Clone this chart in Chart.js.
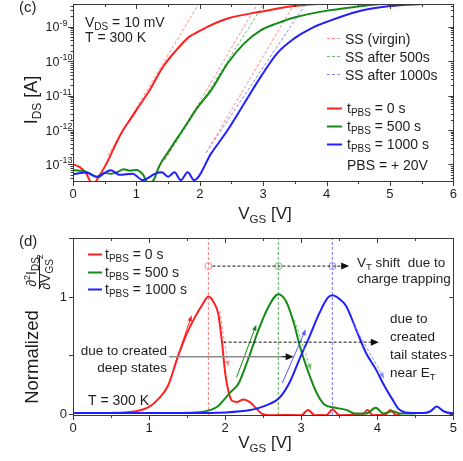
<!DOCTYPE html>
<html>
<head>
<meta charset="utf-8">
<script src="https://cdn.jsdelivr.net/npm/chart.js@4.4.0/dist/chart.umd.min.js"></script>
<style>
html, body { margin: 0; padding: 0; background: #fff; }
#wrap { position: relative; width: 463px; height: 461px; }
.layer { position: absolute; left: 0; top: 0; width: 463px; height: 461px; pointer-events: none; }
</style>
</head>
<body>
<div id="wrap">
  <div class="layer"><canvas id="transferChart"></canvas></div>
  <div class="layer"><canvas id="derivChart"></canvas></div>
</div>
<script>
// ---- (c) transfer curves, V_GS [V] -> I_DS [A]
const vgsRed = [0, 0.1, 0.21, 0.26, 0.32, 0.37, 0.5, 0.58, 0.69, 0.79, 0.9, 1.0, 1.21, 1.42, 1.63, 1.83, 1.97, 2.12, 2.44, 2.96, 3.49, 4.0, 4.2];
const idsRed = [1.0e-13, 8.5e-14, 5.5e-14, 3.5e-14, 2.2e-14, 3.4e-14, 8.5e-14, 1.66e-13, 4.5e-13, 1.0e-12, 2.0e-12, 3.8e-12, 1.45e-11, 6.9e-11, 2.1e-10, 5.1e-10, 7.1e-10, 1.0e-9, 1.74e-9, 2.75e-9, 4.0e-9, 4.8e-9, 5.1e-9];

const vgsGreen = [0, 0.1, 0.2, 0.3, 0.4, 0.5, 0.6, 0.7, 0.8, 0.9, 1.0, 1.1, 1.18, 1.26, 1.36, 1.52, 1.73, 1.97, 2.18, 2.44, 2.7, 2.96, 3.22, 3.49, 4.01, 4.5, 4.85, 5.1];
const idsGreen = [6.8e-14, 6.6e-14, 6.2e-14, 5.0e-14, 4.2e-14, 5.6e-14, 5.4e-14, 6.0e-14, 7.2e-14, 6.6e-14, 6.9e-14, 5.2e-14, 3.0e-14, 3.3e-14, 8.9e-14, 2.6e-13, 1.0e-12, 4.7e-12, 1.45e-11, 8.7e-11, 3.3e-10, 7.9e-10, 1.26e-9, 1.86e-9, 2.95e-9, 3.9e-9, 4.6e-9, 5.0e-9];

const vgsBlue = [0, 0.21, 0.37, 0.6, 0.73, 0.94, 1.1, 1.3, 1.4, 1.5, 1.6, 1.7, 1.81, 1.91, 2.18, 2.44, 2.7, 2.96, 3.22, 3.49, 3.75, 4.01, 4.48, 5.0, 5.53, 5.8];
const idsBlue = [5.2e-14, 5.8e-14, 4.4e-14, 6.8e-14, 5.0e-14, 5.4e-14, 3.5e-14, 5.4e-14, 5.9e-14, 4.4e-14, 5.9e-14, 3.5e-14, 5.9e-14, 3.5e-14, 2.1e-13, 1.0e-12, 5.9e-12, 3.5e-11, 1.7e-10, 4.6e-10, 8.9e-10, 1.41e-9, 2.75e-9, 4.0e-9, 4.6e-9, 4.9e-9];

// subthreshold swing fits (dashed), start / end points
const ssVirginV = [[0.55, 1.98], [1.45, 2.91], [2.1, 3.49]];
const ssVirginI = [[1.8e-13, 4.6e-9], [1.35e-13, 4.6e-9], [2.2e-13, 4.6e-9]];
const ss500V = [1.45, 3.01];
const ss500I = [1.35e-13, 4.6e-9];
const ss1000V = [2.1, 3.67];
const ss1000I = [2.2e-13, 4.6e-9];

const idsDecades = [-13, -12, -11, -10, -9];   // labelled log ticks

// ---- (d) normalized second derivative
const vgsDRed = [0.26, 0.5, 0.83, 1.0, 1.13, 1.25, 1.37, 1.48, 1.6, 1.7, 1.78, 1.85, 1.91, 1.96, 2.0, 2.04, 2.09, 2.16, 2.24, 2.32, 2.4, 2.48, 2.6, 3.0, 3.09, 3.18, 3.33, 3.41, 3.5, 3.8, 3.87, 3.94, 4.1, 4.17, 4.25, 4.3];
const d2Red = [0.005, 0.006, 0.02, 0.057, 0.13, 0.24, 0.47, 0.66, 0.82, 0.93, 1.0, 0.95, 0.85, 0.6, 0.35, 0.2, 0.11, 0.1, 0.12, 0.1, 0.05, 0.0, -0.015, -0.015, 0.03, -0.015, -0.015, 0.035, -0.015, -0.015, 0.03, -0.015, -0.015, 0.03, -0.015, -0.015];

const vgsDGreen = [1.26, 1.6, 1.8, 1.9, 2.0, 2.08, 2.17, 2.3, 2.43, 2.56, 2.7, 2.8, 2.9, 2.98, 3.09, 3.2, 3.3, 3.45, 3.6, 3.7, 3.85, 3.98, 4.08, 4.2, 4.3, 4.5];
const d2Green = [0.005, 0.01, 0.03, 0.06, 0.13, 0.19, 0.25, 0.46, 0.7, 0.9, 1.02, 0.96, 0.78, 0.58, 0.36, 0.18, 0.08, 0.05, 0.03, 0.0, 0.0, 0.05, 0.0, 0.02, 0.0, 0.0];

const vgsDBlue = [0, 1.5, 2.0, 2.33, 2.54, 2.72, 2.85, 2.98, 3.11, 3.24, 3.35, 3.41, 3.5, 3.59, 3.72, 3.85, 3.98, 4.09, 4.19, 4.28, 4.37, 4.6, 4.7, 4.78, 4.87, 4.97, 5.0];
const d2Blue = [0.005, 0.005, 0.01, 0.03, 0.07, 0.14, 0.27, 0.47, 0.66, 0.86, 0.99, 1.01, 0.98, 0.92, 0.72, 0.52, 0.38, 0.24, 0.13, 0.04, 0.01, 0.005, 0.02, 0.06, 0.02, 0.005, 0.005];

const peakV = [1.78, 2.7, 3.41];      // V_T markers
const markerLevel = 1.26;
const normTicks = [0, 0.5, 1, 1.5];
const normLabels = [0, 1];

// small slope arrows on the peaks (from -> to)
const slopeArrowV = [[1.33, 1.56], [1.93, 2.04], [2.15, 2.41], [2.91, 3.13], [2.75, 3.06], [3.67, 4.09]];
const slopeArrowY = [[0.40, 0.84], [0.875, 0.40], [0.31, 0.76], [0.80, 0.37], [0.26, 0.72], [0.78, 0.30]];

const FONT = '"Liberation Sans", Arial, sans-serif';
const TXT = '#1e1e1e';
const AX = '#3a3a3a';
const RED = '#ff1f1f', GREEN = '#168a16', BLUE = '#1f1fff';
const RED_L = '#ff8a8a', GREEN_L = '#70c070', BLUE_L = '#8a8aff';

function pts(xs, ys) { return xs.map((x, i) => ({ x: x, y: ys[i] })); }

// text with sub/superscripts: parts = [text, size, dy]
function richText(ctx, x, y, parts, align) {
    let w = 0;
    parts.forEach(p => { ctx.font = p[1] + 'px ' + FONT; w += ctx.measureText(p[0]).width; });
    let cx = align === 'center' ? x - w / 2 : (align === 'right' ? x - w : x);
    ctx.textAlign = 'left';
    ctx.textBaseline = 'alphabetic';
    parts.forEach(p => {
        ctx.font = p[1] + 'px ' + FONT;
        ctx.fillText(p[0], cx, y + (p[2] || 0));
        cx += ctx.measureText(p[0]).width;
    });
}
function rotatedText(ctx, x, y, parts) {
    ctx.save();
    ctx.translate(x, y);
    ctx.rotate(-Math.PI / 2);
    richText(ctx, 0, 0, parts, 'center');
    ctx.restore();
}
function arrow(ctx, x1, y1, x2, y2, color, dashed, head, half, width) {
    ctx.save();
    ctx.strokeStyle = color;
    ctx.fillStyle = color;
    ctx.lineWidth = width;
    ctx.setLineDash(dashed ? [3, 2] : []);
    const a = Math.atan2(y2 - y1, x2 - x1);
    ctx.beginPath();
    ctx.moveTo(x1, y1);
    ctx.lineTo(x2 - Math.cos(a) * head * 0.8, y2 - Math.sin(a) * head * 0.8);
    ctx.stroke();
    ctx.setLineDash([]);
    ctx.beginPath();
    ctx.moveTo(x2, y2);
    ctx.lineTo(x2 - Math.cos(a) * head - Math.sin(a) * half, y2 - Math.sin(a) * head + Math.cos(a) * half);
    ctx.lineTo(x2 - Math.cos(a) * head + Math.sin(a) * half, y2 - Math.sin(a) * head - Math.cos(a) * half);
    ctx.closePath();
    ctx.fill();
    ctx.restore();
}
function frame(ctx, ca) {
    ctx.strokeStyle = AX;
    ctx.lineWidth = 1;
    ctx.strokeRect(Math.round(ca.left) + 0.5, Math.round(ca.top) + 0.5, Math.round(ca.right - ca.left), Math.round(ca.bottom - ca.top));
}
// ticks on all sides: bottom/left outward, top/right inward (Origin style)
function xTicks(ctx, chart) {
    const ca = chart.chartArea, xs = chart.scales.x;
    ctx.beginPath();
    xs.ticks.forEach(t => {
        const px = Math.round(xs.getPixelForValue(t.value)) + 0.5;
        const len = Number.isInteger(t.value) ? 5 : 3;
        ctx.moveTo(px, ca.bottom); ctx.lineTo(px, ca.bottom + len);
        ctx.moveTo(px, ca.top); ctx.lineTo(px, ca.top + len);
    });
    ctx.stroke();
}
function yTick(ctx, ca, py, len) {
    py = Math.round(py) + 0.5;
    ctx.moveTo(ca.left - len, py); ctx.lineTo(ca.left, py);
    ctx.moveTo(ca.right - len, py); ctx.lineTo(ca.right, py);
}

const legendLine = (ctx, x1, x2, y, color, dashed) => {
    ctx.save();
    ctx.strokeStyle = color;
    ctx.lineWidth = dashed ? 1 : 2;
    ctx.setLineDash(dashed ? [3, 2] : []);
    ctx.beginPath(); ctx.moveTo(x1, y); ctx.lineTo(x2, y); ctx.stroke();
    ctx.restore();
};

const transferDecor = {
    id: 'transferDecor',
    afterDraw(chart) {
        const ctx = chart.ctx, ca = chart.chartArea, ys = chart.scales.y;
        ctx.save();
        frame(ctx, ca);
        xTicks(ctx, chart);
        ctx.beginPath();
        for (let e = -14; e <= -9; e++) {
            for (let k = 1; k <= 9; k++) {
                const v = k * Math.pow(10, e);
                if (v < ys.min || v > ys.max) continue;
                yTick(ctx, ca, ys.getPixelForValue(v), k === 1 ? 5 : 2.5);
            }
        }
        ctx.stroke();
        ctx.fillStyle = TXT;
        idsDecades.forEach(e => {
            const py = ys.getPixelForValue(Math.pow(10, e));
            richText(ctx, 45.5, py + 4.5, [['10', 12.5], [String(e), 9, -5.5]], 'left');
        });
        rotatedText(ctx, 37, 100, [['I', 18], ['DS', 12, 4], [' [A]', 18]]);
        richText(ctx, 265, 219, [['V', 17], ['GS', 11.5, 4], [' [V]', 17]], 'center');
        richText(ctx, 19, 12, [['(c)', 15]], 'left');
        richText(ctx, 85, 27, [['V', 14], ['DS', 10, 3], [' = 10 mV', 14]], 'left');
        richText(ctx, 85, 42, [['T = 300 K', 14]], 'left');

        legendLine(ctx, 327, 341, 38.5, RED_L, true);
        legendLine(ctx, 327, 341, 56.5, GREEN_L, true);
        legendLine(ctx, 327, 341, 74.5, BLUE_L, true);
        ctx.fillStyle = TXT;
        richText(ctx, 345, 43.5, [['SS (virgin)', 14]], 'left');
        richText(ctx, 345, 61.5, [['SS after 500s', 14]], 'left');
        richText(ctx, 345, 79.5, [['SS after 1000s', 14]], 'left');
        legendLine(ctx, 327, 342, 108.5, RED, false);
        legendLine(ctx, 327, 342, 126.5, GREEN, false);
        legendLine(ctx, 327, 342, 144.5, BLUE, false);
        ctx.fillStyle = TXT;
        richText(ctx, 347, 113, [['t', 14], ['PBS', 10, 3], [' = 0 s', 14]], 'left');
        richText(ctx, 347, 131, [['t', 14], ['PBS', 10, 3], [' = 500 s', 14]], 'left');
        richText(ctx, 347, 149, [['t', 14], ['PBS', 10, 3], [' = 1000 s', 14]], 'left');
        richText(ctx, 347, 170, [['PBS = + 20V', 14]], 'left');
        ctx.restore();
    }
};

const derivDecor = {
    id: 'derivDecor',
    afterDatasetsDraw(chart) {
        const ctx = chart.ctx, xs = chart.scales.x, ys = chart.scales.y;
        const X = v => xs.getPixelForValue(v), Y = v => ys.getPixelForValue(v);
        const cols = [RED, RED_L, GREEN, GREEN_L, '#5a5aff', BLUE_L];
        slopeArrowV.forEach((vv, i) => {
            arrow(ctx, X(vv[0]), Y(slopeArrowY[i][0]), X(vv[1]), Y(slopeArrowY[i][1]), cols[i], i % 2 === 1, 6, 2.3, 1);
        });
        // V_T shift line
        arrow(ctx, X(peakV[0]) + 4, Y(markerLevel), X(3.63), Y(markerLevel), '#111', true, 8, 3.5, 1);
        // tail states line
        arrow(ctx, X(1.98), Y(0.61), X(4.02), Y(0.61), '#111', true, 8, 3.5, 1);
        // deep states line (gray) with black head
        ctx.save();
        ctx.strokeStyle = '#8c8c8c'; ctx.lineWidth = 1.4;
        ctx.beginPath(); ctx.moveTo(X(1.26), Y(0.486)); ctx.lineTo(X(2.84), Y(0.486)); ctx.stroke();
        ctx.restore();
        arrow(ctx, X(2.75), Y(0.486), X(2.9), Y(0.486), '#111', false, 8, 3.5, 1);
    },
    afterDraw(chart) {
        const ctx = chart.ctx, ca = chart.chartArea, ys = chart.scales.y;
        ctx.save();
        frame(ctx, ca);
        xTicks(ctx, chart);
        ctx.beginPath();
        normTicks.forEach(v => yTick(ctx, ca, ys.getPixelForValue(v), 4));
        ctx.stroke();
        ctx.fillStyle = TXT;
        normLabels.forEach(v => richText(ctx, 67, ys.getPixelForValue(v) + 4.5, [[String(v), 13]], 'right'));
        rotatedText(ctx, 37.5, 357, [['Normalized', 18.5]]);
        rotatedText(ctx, 36, 272, [['\u2202', 14], ['2', 9, -6], ['I', 14], ['DS', 10, 3]]);
        ctx.strokeStyle = TXT; ctx.lineWidth = 1;
        ctx.beginPath(); ctx.moveTo(39.5, 256); ctx.lineTo(39.5, 289); ctx.stroke();
        rotatedText(ctx, 50, 272, [['\u2202', 14], ['V', 14], ['GS', 10, 3], ['2', 9, -7]]);
        richText(ctx, 265, 448, [['V', 17], ['GS', 11.5, 4], [' [V]', 17]], 'center');
        richText(ctx, 19, 246, [['(d)', 15]], 'left');

        legendLine(ctx, 88, 102, 254.5, RED, false);
        legendLine(ctx, 88, 102, 272.5, GREEN, false);
        legendLine(ctx, 88, 102, 289.5, BLUE, false);
        ctx.fillStyle = TXT;
        richText(ctx, 105, 259, [['t', 14], ['PBS', 10, 3], [' = 0 s', 14]], 'left');
        richText(ctx, 105, 277, [['t', 14], ['PBS', 10, 3], [' = 500 s', 14]], 'left');
        richText(ctx, 105, 294, [['t', 14], ['PBS', 10, 3], [' = 1000 s', 14]], 'left');

        richText(ctx, 167, 355, [['due to created', 13.5]], 'right');
        richText(ctx, 167, 372, [['deep states', 13.5]], 'right');
        richText(ctx, 88, 405, [['T = 300 K', 14]], 'left');
        richText(ctx, 357, 267, [['V', 13.5], ['T', 9.5, 3], [' shift  due to', 13.5]], 'left');
        richText(ctx, 357, 283, [['charge trapping', 13.5]], 'left');
        richText(ctx, 390, 323, [['due to', 13.5]], 'left');
        richText(ctx, 390, 341, [['created', 13.5]], 'left');
        richText(ctx, 390, 359, [['tail states', 13.5]], 'left');
        richText(ctx, 390, 377, [['near E', 13.5], ['T', 9.5, 3]], 'left');
        ctx.restore();
    }
};

function solid(data, color, order) {
    return { data: data, borderColor: color, borderWidth: 2, pointRadius: 0, cubicInterpolationMode: 'monotone', order: order };
}
function dashed(data, color, order, width) {
    return { data: data, borderColor: color, borderWidth: width || 1, borderDash: [3, 2], pointRadius: 0, tension: 0, order: order };
}

function xScale(max, height) {
    return {
        type: 'linear', min: 0, max: max,
        grid: { display: false, drawTicks: false }, border: { display: false },
        ticks: { stepSize: 0.5, padding: 6, autoSkip: false, maxRotation: 0, color: TXT, font: { family: FONT, size: 13 },
                 callback: v => Number.isInteger(v) ? String(v) : '' },
        afterFit: s => { s.height = height; }
    };
}

function initTransferChart() {
    const el = document.getElementById('transferChart');
    const sets = [];
    ssVirginV.forEach((v, i) => sets.push(dashed(pts(v, ssVirginI[i]), RED_L, 3)));
    sets.push(dashed(pts(ss500V, ss500I), GREEN_L, 3));
    sets.push(dashed(pts(ss1000V, ss1000I), BLUE_L, 3));
    sets.push(solid(pts(vgsBlue, idsBlue), BLUE, 1));
    sets.push(solid(pts(vgsGreen, idsGreen), GREEN, 1));
    sets.push(solid(pts(vgsRed, idsRed), RED, 1));
    new Chart(el.getContext('2d'), {
        type: 'line',
        data: { datasets: sets },
        options: {
            responsive: true, maintainAspectRatio: false, animation: false,
            layout: { padding: { left: 0, right: 8, top: 4, bottom: 250 } },
            plugins: { legend: { display: false }, tooltip: { enabled: false } },
            scales: {
                x: xScale(6, 30),
                y: { type: 'logarithmic', min: 3.3e-14, max: 4.6e-9,
                     grid: { display: false, drawTicks: false }, border: { display: false },
                     ticks: { display: false }, afterFit: s => { s.width = 73; } }
            }
        },
        plugins: [transferDecor]
    });
}

function initDerivChart() {
    const el = document.getElementById('derivChart');
    const sets = [];
    const vcols = [RED_L, GREEN_L, BLUE_L];
    peakV.forEach((v, i) => sets.push(dashed(pts([v, v], [-0.012, 1.5]), vcols[i], 6, 1.2)));
    sets.push({ data: pts(peakV, peakV.map(() => markerLevel)), showLine: false, pointRadius: 3.5,
                pointBorderColor: vcols, pointBackgroundColor: 'rgba(0,0,0,0)', pointBorderWidth: 1, order: 5 });
    sets.push(solid(pts(vgsDRed, d2Red), RED, 3));
    sets.push(solid(pts(vgsDGreen, d2Green), GREEN, 2));
    sets.push(solid(pts(vgsDBlue, d2Blue), BLUE, 1));
    new Chart(el.getContext('2d'), {
        type: 'line',
        data: { datasets: sets },
        options: {
            responsive: true, maintainAspectRatio: false, animation: false,
            layout: { padding: { left: 0, right: 6, top: 238, bottom: 16 } },
            plugins: { legend: { display: false }, tooltip: { enabled: false } },
            scales: {
                x: xScale(5, 30),
                y: { type: 'linear', min: -0.012, max: 1.5,
                     grid: { display: false, drawTicks: false }, border: { display: false },
                     ticks: { display: false }, afterFit: s => { s.width = 73; } }
            }
        },
        plugins: [derivDecor]
    });
}

document.addEventListener('DOMContentLoaded', () => {
    initTransferChart();
    initDerivChart();
});
</script>
</body>
</html>
